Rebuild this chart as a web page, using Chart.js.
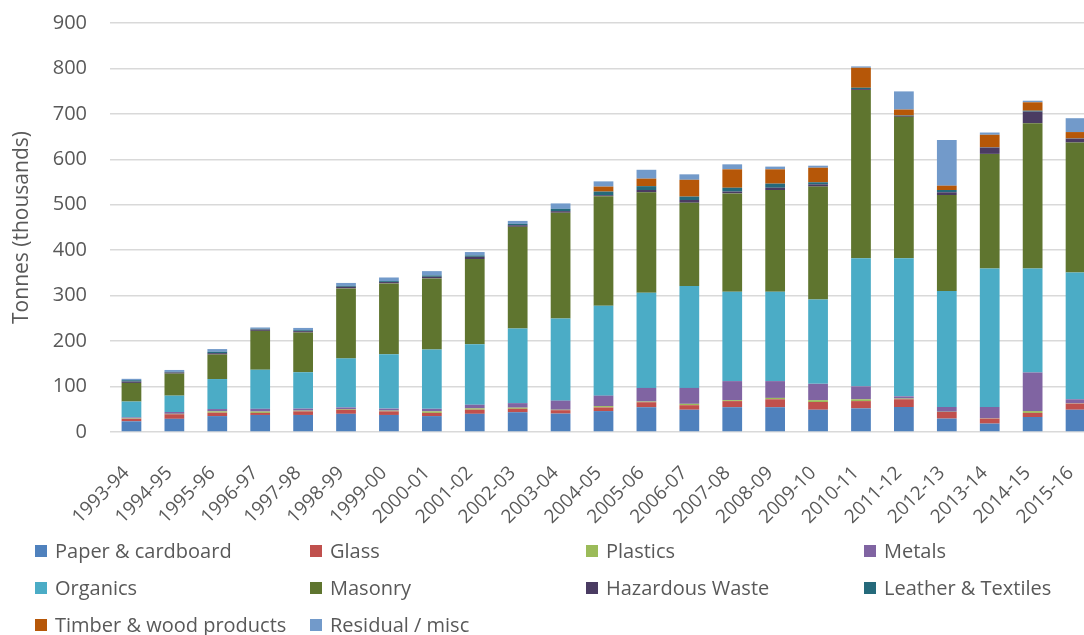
<!DOCTYPE html>
<html>
<head>
<meta charset="utf-8">
<script src="https://cdn.jsdelivr.net/npm/chart.js@4/dist/chart.umd.min.js"></script>
<style>
  html, body { margin: 0; padding: 0; background: #fff; }
  #wrap { width: 1084px; height: 635px; overflow: hidden; position: relative; }
  #myChart { display: block; }
</style>
</head>
<body>
<div id="wrap"><canvas id="myChart" width="1100" height="635"></canvas></div>
<script>
// Financial years on the x axis
var years = ["1993-94", "1994-95", "1995-96", "1996-97", "1997-98", "1998-99", "1999-00",
  "2000-01", "2001-02", "2002-03", "2003-04", "2004-05", "2005-06", "2006-07", "2007-08",
  "2008-09", "2009-10", "2010-11", "2011-12", "2012-13", "2013-14", "2014-15", "2015-16"];

// Tonnes (thousands) per material
var paper = [23.5, 29, 35, 37.5, 37.5, 40, 37.5, 35, 40, 43.5, 40.5, 46, 54.5, 49, 54.5, 54.5, 49, 52, 55, 29.5, 18.5, 33, 49];
var glass = [5.5, 10, 7.5, 4.5, 8, 9, 8, 7, 9, 7.5, 7.5, 8, 11, 10, 13.5, 17.5, 17, 16, 17, 14.5, 11, 9, 13.5];
var plastics = [1, 1, 3, 3, 1.5, 1.5, 1.5, 3.5, 3, 2.5, 1, 3, 1.5, 3, 2, 3, 4, 4, 1.5, 0.5, 0.5, 4, 0.5];
var metals = [2, 4, 5, 6, 4.5, 3.5, 4.5, 5.5, 8, 10, 20, 23, 30, 35, 42, 37, 36, 28.5, 5, 10.5, 25, 85, 9];
var organics = [35, 36, 66, 86, 80, 108, 119.5, 130.5, 133, 164, 181, 198, 209.5, 224, 196.5, 196.5, 185.5, 282, 304, 255, 305, 229, 279];
var masonry = [41, 48.5, 54, 85.5, 87.5, 154, 156, 156.5, 187.5, 224, 232.5, 241, 221, 183.5, 216.5, 224, 248.5, 370, 311, 211.5, 252, 319.5, 286];
var hazardous = [3, 2.5, 3, 3, 3, 3.5, 3, 3.5, 5, 3.5, 3.5, 2, 5, 6, 4, 5, 5, 2, 2, 6, 14, 25.5, 8.5];
var leather = [3, 1.5, 3, 1.5, 2, 2, 2, 3, 3, 3, 5, 8, 8.5, 7.5, 8.5, 9, 4.5, 3, 1, 5, 0.5, 2, 0.5];
var timber = [0, 0, 0, 0, 0, 0, 0, 0, 0, 0, 0, 11, 16.5, 37, 40.5, 31.5, 32, 44, 13, 9.5, 27.5, 18.5, 14];
var residual = [3, 4, 6, 3, 5, 6.5, 8, 9.5, 7.5, 6.5, 12, 11.5, 19.5, 12, 11, 6, 4.5, 3, 40, 100.5, 5, 3.5, 30.5];

var yTicks = [0, 100, 200, 300, 400, 500, 600, 700, 800, 900];

var grey = "#595959";
var font = "'Open Sans', 'Noto Sans', sans-serif";

var series = [
  { label: "Paper & cardboard", data: paper, color: "#4f81bd" },
  { label: "Glass", data: glass, color: "#c0504d" },
  { label: "Plastics", data: plastics, color: "#9bbb59" },
  { label: "Metals", data: metals, color: "#8064a2" },
  { label: "Organics", data: organics, color: "#4bacc6" },
  { label: "Masonry", data: masonry, color: "#5f752f" },
  { label: "Hazardous Waste", data: hazardous, color: "#4a3b62" },
  { label: "Leather & Textiles", data: leather, color: "#256a7b" },
  { label: "Timber & wood products", data: timber, color: "#b65708" },
  { label: "Residual / misc", data: residual, color: "#729aca" }
];

var datasets = series.map(function (s) {
  return {
    label: s.label,
    data: s.data,
    backgroundColor: s.color,
    borderWidth: 0,
    categoryPercentage: 1,
    barPercentage: 0.46
  };
});

// Excel-style legend: four fixed columns under the axis labels
var gridLegend = {
  id: "gridLegend",
  afterDraw: function (chart) {
    var ctx = chart.ctx;
    var cols = [35, 310, 586, 864];
    var rows = [551, 588, 625];
    ctx.save();
    ctx.font = "20px " + font;
    ctx.textBaseline = "middle";
    ctx.textAlign = "left";
    chart.data.datasets.forEach(function (ds, i) {
      var x = cols[i % 4];
      var y = rows[Math.floor(i / 4)];
      ctx.fillStyle = ds.backgroundColor;
      ctx.fillRect(x, y - 6, 12, 12);
      ctx.fillStyle = grey;
      ctx.fillText(ds.label, x + 20, y + 1);
    });
    ctx.restore();
  }
};

var chartElement = document.getElementById("myChart").getContext("2d");

new Chart(chartElement, {
  type: "bar",
  data: {
    labels: years,
    datasets: datasets
  },
  options: {
    responsive: false,
    animation: false,
    layout: { padding: { top: 23, right: 3, left: 0, bottom: 0 } },
    plugins: {
      legend: { display: false },
      tooltip: { enabled: false }
    },
    scales: {
      x: {
        stacked: true,
        grid: { display: false, drawTicks: false },
        border: { display: false },
        ticks: {
          color: grey,
          font: { family: font, size: 19 },
          minRotation: 45,
          maxRotation: 45,
          autoSkip: false,
          padding: 30,
          labelOffset: -5
        },
        afterFit: function (scale) {
          scale.height = 203;
          scale.paddingLeft = 0;
          scale.paddingRight = 0;
        }
      },
      y: {
        stacked: true,
        min: 0,
        max: 900,
        afterBuildTicks: function (scale) {
          scale.ticks = yTicks.map(function (v) { return { value: v }; });
        },
        grid: { color: "#d9d9d9", lineWidth: 1.5, drawTicks: false },
        border: { display: false },
        ticks: {
          color: grey,
          font: { family: font, size: 20 },
          padding: 23
        },
        title: {
          display: true,
          text: "Tonnes (thousands)",
          color: grey,
          font: { family: font, size: 21 },
          padding: { top: 9, bottom: 0 }
        },
        afterFit: function (scale) {
          scale.width = 110;
          // keep the big label padding from pushing the plot down
          scale.paddingTop = 12;
          scale.paddingBottom = 12;
        }
      }
    }
  },
  plugins: [gridLegend]
});
</script>
</body>
</html>
